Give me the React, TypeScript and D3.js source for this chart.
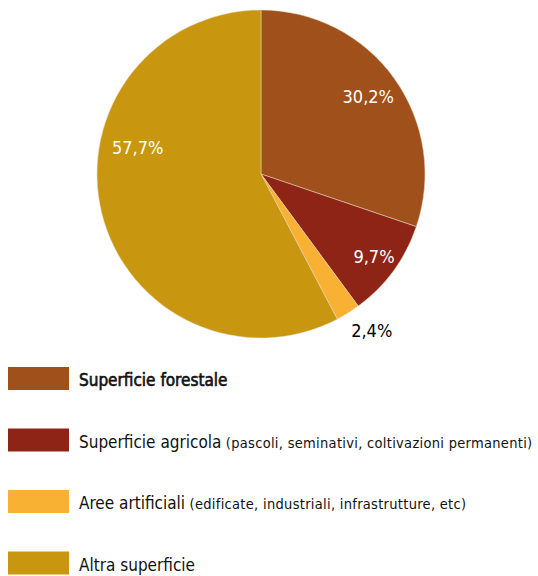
import React from "react";
import * as d3 from "d3";

const categories = ["Superficie forestale", "Superficie agricola", "Aree artificiali", "Altra superficie"];
const notes = ["", "(pascoli, seminativi, coltivazioni permanenti)", "(edificate, industriali, infrastrutture, etc)", ""];
const values = [30.2, 9.7, 2.4, 57.7];
const labels = ["30,2%", "9,7%", "2,4%", "57,7%"];
const colors = ["#A0511B", "#8E2415", "#F8B133", "#C8970F"];
const bold = [true, false, false, false];
// label placement: radius and angle shift (radians)
const labelRadius = [132, 140, 185, 126];
const labelShift = [0, 0, 0, 0.45];
const labelInside = [true, true, false, true];

const FONT = "'DejaVu Sans Condensed', 'DejaVu Sans', sans-serif";

export default function App() {
  const width = 538, height = 576;
  const cx = 261, cy = 174, r = 164;
  const pie = d3.pie<number>().sort(null).value((d) => d)(values);
  const arc = d3.arc<d3.PieArcDatum<number>>().innerRadius(0).outerRadius(r);
  return (
    <svg width={width} height={height} style={{ position: "absolute", left: 0, top: 0 }} fontFamily={FONT}>
      <g transform={`translate(${cx},${cy})`}>
        {pie.map((p, i) => (
          <path key={i} d={arc(p) || ""} fill={colors[i]} stroke="#e8d8c8" strokeWidth={0.5} />
        ))}
        {pie.map((p, i) => {
          const a = (p.startAngle + p.endAngle) / 2 + labelShift[i];
          const x = Math.sin(a) * labelRadius[i];
          const y = -Math.cos(a) * labelRadius[i];
          return (
            <text key={i} x={labelInside[i] ? x : x - 8} y={y} dy="0.35em"
              textAnchor={labelInside[i] ? "middle" : "start"}
              fill={labelInside[i] ? "#fff" : "#000"} fontSize={18}>
              {labels[i]}
            </text>
          );
        })}
      </g>
      {categories.map((c, i) => {
        const y = 367 + i * 61.5;
        return (
          <g key={i}>
            <rect x={8} y={y} width={61} height={23} fill={colors[i]} />
            <text x={79} y={y + 19} fontSize={17} fill="#111"
              stroke={bold[i] ? "#111" : "none"} strokeWidth={bold[i] ? 0.6 : 0}>
              {c}
              {notes[i] ? <tspan fontSize={14.5} letterSpacing={0.3} stroke="none">{" " + notes[i]}</tspan> : null}
            </text>
          </g>
        );
      })}
    </svg>
  );
}
